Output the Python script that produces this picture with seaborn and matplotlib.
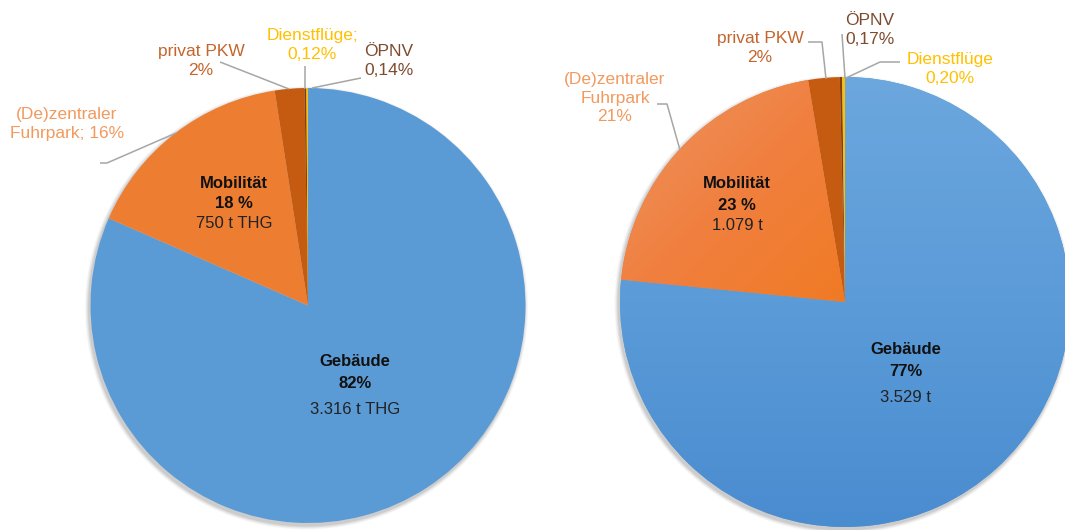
import numpy as np
import matplotlib
matplotlib.use("Agg")
import matplotlib.pyplot as plt
import seaborn as sns
from matplotlib.colors import LinearSegmentedColormap
from matplotlib.patches import Circle

sns.set_theme(style="white")
plt.rcParams['font.family'] = ['Liberation Sans', 'DejaVu Sans']

# ---------------- data ----------------
categories = ["Gebäude", "(De)zentraler Fuhrpark", "privat PKW", "ÖPNV", "Dienstflüge"]
values_left = [3316, 650, 89, 5.7, 4.9]
values_right = [3529, 958, 104, 7.8, 9.2]

outer_labels_left = ["(De)zentraler\nFuhrpark; 16%", "privat PKW\n2%", "ÖPNV\n0,14%", "Dienstflüge;\n0,12%"]
outer_labels_right = ["(De)zentraler\nFuhrpark\n21%", "privat PKW\n2%", "ÖPNV\n0,17%", "Dienstflüge\n0,20%"]

gebaeude_left = ["Gebäude", "82%", "3.316 t THG"]
mobil_left = ["Mobilität", "18 %", "750 t THG"]
gebaeude_right = ["Gebäude", "77%", "3.529 t"]
mobil_right = ["Mobilität", "23 %", "1.079 t"]

colors = ["#5B9BD5", "#ED7D31", "#C55A11", "#843C0C", "#FFC000"]
label_colors = ["#F29A5E", "#C4652C", "#7E4B2E", "#FFC000"]

W, H = 1065, 530
fig = plt.figure(figsize=(W / 100, H / 100), dpi=100)
ax = fig.add_axes([0, 0, 1, 1])


def P(x, y):
    return (x, H - y)


def shadow(cx, cy, r):
    for k, a in [(4, 0.05), (3, 0.07), (2, 0.1), (1, 0.12)]:
        ax.add_patch(Circle(P(cx - 1.5, cy + 2.5), r + k, facecolor="#606060",
                            edgecolor="none", alpha=a, zorder=0))


# ---------------- left pie ----------------
cxL, cyL, rL = 308, 305.5, 217.5
shadow(cxL, cyL, rL)
wL, _ = ax.pie(values_left, colors=colors, startangle=90, counterclock=False,
               center=P(cxL, cyL), radius=rL, wedgeprops=dict(linewidth=0), frame=True)
for w in wL:
    w.set_zorder(2)

# ---------------- right pie ----------------
cxR, cyR, rR = 845, 302, 225
shadow(cxR, cyR, rR)
wR, _ = ax.pie(values_right, colors=colors, startangle=90, counterclock=False,
               center=P(cxR, cyR), radius=rR, wedgeprops=dict(linewidth=0), frame=True)
for w in wR:
    w.set_zorder(2)

# gradients on right pie (Gebäude, Fuhrpark)
grad = np.linspace(0, 1, 256).reshape(-1, 1)
cmap_blue = LinearSegmentedColormap.from_list("b", ["#6CA7DE", "#5B9BD8", "#4A8CD0"])
img = ax.imshow(grad, cmap=cmap_blue, extent=(cxR - rR, cxR + rR, H - cyR - rR, H - cyR + rR),
                origin="upper", zorder=3, aspect="auto")
img.set_clip_path(wR[0])
diag = np.add.outer(np.linspace(0, 1, 256), np.linspace(0, 1, 256)) / 2
cmap_or = LinearSegmentedColormap.from_list("o", ["#EF9563", "#F08040", "#F07A24"])
img2 = ax.imshow(diag, cmap=cmap_or, extent=(cxR - rR, cxR, H - cyR, H - cyR + rR),
                 origin="upper", zorder=3, aspect="auto")
img2.set_clip_path(wR[1])

# ---------------- leader lines ----------------
lc = "#A6A6A6"
lines = [
    [(100, 163), (107, 163), (176, 133)],
    [(220, 62), (289, 89)],
    [(361, 78), (312, 88)],
    [(305, 66), (305, 89)],
    [(657, 104), (667, 104), (680, 150)],
    [(808, 42), (822, 42), (826, 79)],
    [(842, 34), (845, 78)],
    [(900, 62), (880, 62), (846, 78)],
]
for pts in lines:
    xs = [p[0] for p in pts]
    ys = [H - p[1] for p in pts]
    ax.plot(xs, ys, color=lc, lw=1.1, zorder=4, solid_capstyle="butt")

# ---------------- outer labels ----------------
fs_out = 12.5
pos_left = [(67, 124), (201, 61), (389, 61), (312, 45)]
pos_right = [(615, 98), (760, 48), (870, 30), (950, 69)]
for txt, (x, y), c in zip(outer_labels_left, pos_left, label_colors):
    ax.text(*P(x, y), txt, ha="center", va="center", color=c, fontsize=fs_out,
            linespacing=1.3, zorder=5)
for txt, (x, y), c in zip(outer_labels_right, pos_right, label_colors):
    ax.text(*P(x, y), txt, ha="center", va="center", color=c, fontsize=fs_out,
            linespacing=1.3, zorder=5)


# ---------------- inner labels ----------------
def inner(lines3, x, ys):
    ax.text(*P(x, ys[0]), lines3[0], ha="center", va="center", fontsize=12,
            fontweight="bold", color="#111111", zorder=5)
    ax.text(*P(x, ys[1]), lines3[1], ha="center", va="center", fontsize=12,
            fontweight="bold", color="#111111", zorder=5)
    ax.text(*P(x, ys[2]), lines3[2], ha="center", va="center", fontsize=12,
            color="#222222", zorder=5)


inner(mobil_left, 234, (183, 203, 224))
inner(gebaeude_left, 355, (362, 383, 409))
inner(mobil_right, 737, (183, 205, 226))
inner(gebaeude_right, 906, (350, 372, 397))

ax.set_xlim(0, W)
ax.set_ylim(0, H)
ax.set_aspect("auto")
ax.axis("off")
fig.savefig("out.png", dpi=100, facecolor="white")
